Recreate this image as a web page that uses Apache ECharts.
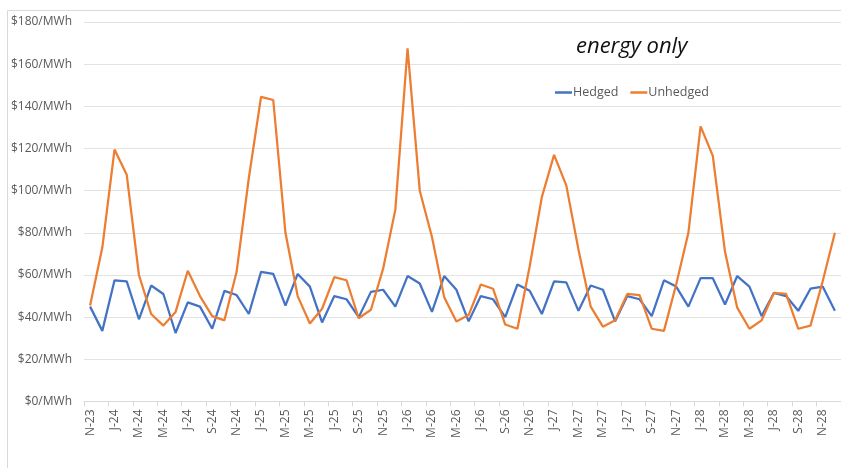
<!DOCTYPE html>
<html>
<head>
<meta charset="utf-8">
<script src="https://cdn.jsdelivr.net/npm/echarts@6/dist/echarts.min.js"></script>
<style>
html,body{margin:0;padding:0;background:#fff;}
#chart{width:841px;height:468px;}
</style>
</head>
<body>
<div id="chart"></div>
<script>
const months = ['N-23','D-23','J-24','F-24','M-24','A-24','M-24','J-24','J-24','A-24','S-24','O-24',
'N-24','D-24','J-25','F-25','M-25','A-25','M-25','J-25','J-25','A-25','S-25','O-25',
'N-25','D-25','J-26','F-26','M-26','A-26','M-26','J-26','J-26','A-26','S-26','O-26',
'N-26','D-26','J-27','F-27','M-27','A-27','M-27','J-27','J-27','A-27','S-27','O-27',
'N-27','D-27','J-28','F-28','M-28','A-28','M-28','J-28','J-28','A-28','S-28','O-28',
'N-28','D-28'];
const hedged = [45,33.5,57.5,57,39,55,51,32.5,47,45,34.5,52.5,
50.5,41.5,61.5,60.5,45.5,60.5,54.5,37.5,50,48.5,40,52,
53,45,59.5,56,42.5,59.5,53,38,50,48.5,40,55.5,
52.5,41.5,57,56.5,43,55,53,38,50,48.5,40.5,57.5,
54.5,45,58.5,58.5,46,59.5,54.5,40.5,51.5,50,43,53.5,
54.5,43];
const unhedged = [45.5,73,119.5,107.5,60,41.5,36,42.5,62,50,40.5,38.5,
61.5,106,144.5,143,80,50,37,44,59,57.5,39.5,43.5,
63,91,167.5,100,78,49.5,38,41,55.5,53.5,36.5,34.5,
64,97,117,102.5,72,45,35.5,38.5,51,50.5,34.5,33.5,
55.5,80,130.5,116.5,71,44.5,34.5,38.5,51.5,51,34.5,36,
57,80];
const yTicks = {min:0, max:180, interval:20};

const chart = echarts.init(document.getElementById('chart'));
const font = '"Open Sans", "Noto Sans", sans-serif';
chart.setOption({
  animation:false,
  backgroundColor:'#fff',
  textStyle:{fontFamily:font},
  graphic:[{type:'rect',shape:{x:7.5,y:10.5,width:900,height:500},style:{fill:'none',stroke:'#d9d9d9',lineWidth:1},silent:true}],
  title:{text:'energy only',left:571,top:31,textStyle:{fontStyle:'italic',fontWeight:'normal',fontSize:22,color:'#111',fontFamily:font}},
  legend:{left:550,top:81,itemWidth:17,itemHeight:2.5,itemGap:12,icon:'rect',
    textStyle:{color:'#595959',fontSize:12.5,fontFamily:font,padding:[0,0,0,-4]},
    data:['Hedged','Unhedged']},
  grid:{left:84,top:22,height:379.5,width:761,containLabel:false},
  xAxis:{type:'category',data:months,boundaryGap:true,
    axisLine:{lineStyle:{color:'#d9d9d9',width:1}},
    axisTick:{show:true,interval:1,length:5,lineStyle:{color:'#d9d9d9'}},
    axisLabel:{interval:1,rotate:90,color:'#595959',fontSize:12,margin:8,fontFamily:font}},
  yAxis:{type:'value',min:yTicks.min,max:yTicks.max,interval:yTicks.interval,
    axisLine:{show:false},axisTick:{show:false},
    splitLine:{lineStyle:{color:'#e3e3e3',width:1}},
    axisLabel:{formatter:'${value}/MWh',color:'#595959',fontSize:12,margin:12,fontFamily:font}},
  series:[
    {name:'Hedged',type:'line',data:hedged,symbol:'none',lineStyle:{color:'#4472C4',width:2.25},itemStyle:{color:'#4472C4'}},
    {name:'Unhedged',type:'line',data:unhedged,symbol:'none',lineStyle:{color:'#ED7D31',width:2.25},itemStyle:{color:'#ED7D31'}}
  ]
});
</script>
</body>
</html>
